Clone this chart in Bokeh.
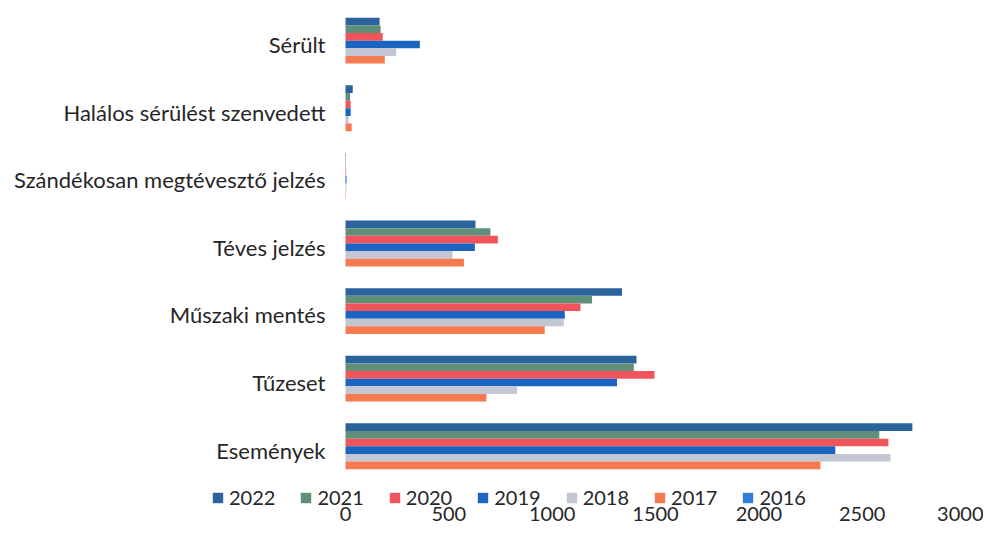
from bokeh.plotting import figure
from bokeh.models import Legend, LegendItem, ColumnDataSource, FixedTicker, Range1d
from bokeh.core.properties import value
from bokeh.transform import dodge
from bokeh.embed import file_html
from bokeh.resources import INLINE

categories = ["Sérült", "Halálos sérülést szenvedett", "Szándékosan megtévesztő jelzés",
              "Téves jelzés", "Műszaki mentés", "Tűzeset", "Események"]
years = ["2022", "2021", "2020", "2019", "2018", "2017", "2016"]
v2022 = [165, 35, 2, 629, 1338, 1408, 2743]
v2021 = [170, 22, 2, 701, 1193, 1395, 2583]
v2020 = [180, 25, 3, 737, 1137, 1495, 2627]
v2019 = [360, 25, 5, 626, 1061, 1314, 2370]
v2018 = [245, 15, 4, 518, 1056, 830, 2637]
v2017 = [190, 30, 2, 573, 964, 682, 2298]
v2016 = [0, 0, 0, 0, 0, 0, 0]
x_ticks = [0, 500, 1000, 1500, 2000, 2500, 3000]

colors = {"2022": "#2b639c", "2021": "#5f8f78", "2020": "#f2545b", "2019": "#1c64c2",
          "2018": "#c3c7d3", "2017": "#f57a4f", "2016": "#2f7fd8"}
values = {"2022": v2022, "2021": v2021, "2020": v2020, "2019": v2019,
          "2018": v2018, "2017": v2017, "2016": v2016}

# category rows: first category at the top
n = len(categories)
data = {"cat": categories, "pos": [n - 1 - i for i in range(n)], "zero": [0] * n}
for y in years:
    data[y] = values[y]
source = ColumnDataSource(data)

FONT = "Lato"
TXT = "#262626"

W, H = 983, 530
FRAME_H = 518
X0_PX = 345.0
PX_PER_UNIT = 620.0 / 3000.0
ROW_PX = 67.6
TOP_ROW_PX = 44.0

x_range = Range1d(-X0_PX / PX_PER_UNIT, (W - X0_PX) / PX_PER_UNIT)
y_top = (n - 1) + TOP_ROW_PX / ROW_PX
y_bot = y_top - FRAME_H / ROW_PX
y_range = Range1d(y_bot, y_top)

p = figure(width=W, height=H, output_backend="svg", toolbar_location=None,
           x_range=x_range, y_range=y_range, y_axis_location=None,
           min_border_left=0, min_border_right=0, min_border_top=0, min_border_bottom=12)
p.outline_line_color = None
p.grid.visible = False

bar_h = 0.113
items = []
for i, y in enumerate(years):
    off = (3 - i) * bar_h
    r = p.hbar(y=dodge("pos", off), right=y, left=0, height=bar_h,
               source=source, fill_color=colors[y], line_color=None)
    items.append(LegendItem(label=y, renderers=[r]))

p.text(x="zero", y="pos", text="cat", source=source, x_offset=-20,
       text_align="right", text_baseline="middle", text_font=value(FONT),
       text_font_size="22px", text_color=TXT)

xax = p.xaxis[0]
xax.ticker = FixedTicker(ticks=x_ticks)
xax.axis_line_color = None
xax.major_tick_line_color = None
xax.minor_tick_line_color = None
xax.major_tick_out = 0
xax.major_tick_in = 0
xax.minor_tick_out = 0
xax.major_label_text_font = FONT
xax.major_label_text_font_size = "20px"
xax.major_label_text_color = TXT
xax.major_label_standoff = -12

legend = Legend(items=items, orientation="horizontal", location=(211, 9))
legend.border_line_color = None
legend.background_fill_alpha = 0
legend.label_text_font = FONT
legend.label_text_font_size = "20px"
legend.label_text_color = TXT
legend.glyph_width = 13
legend.glyph_height = 13
legend.label_standoff = 5
legend.spacing = 24
legend.padding = 0
legend.margin = 0
p.add_layout(legend, "center")

open("out.html", "w").write(file_html(p, INLINE))
